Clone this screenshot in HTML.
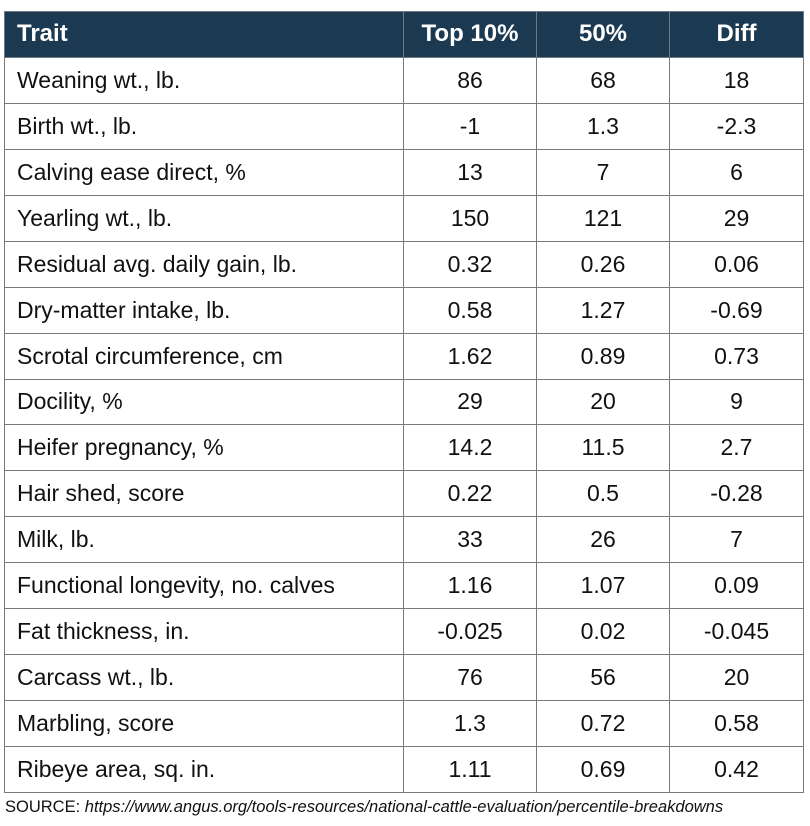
<!DOCTYPE html>
<html><head><meta charset="utf-8"><style>
body{margin:0;background:#fff;width:810px;height:826px;position:relative;font-family:"Liberation Sans",sans-serif;}
table{position:absolute;left:4px;top:11px;border-collapse:collapse;width:799px;table-layout:fixed;}
td,th{border:1.5px solid #7a7a7a;height:44.4px;padding:0;font-size:23px;color:#111;text-align:center;font-weight:normal;}
tr{height:45.95px;}
th{background:#1b3a52;color:#fff;font-weight:bold;border-color:#6d7a86;font-size:24px;}
td:first-child,th:first-child{text-align:left;padding-left:12px;}
.src{position:absolute;left:5px;top:798px;font-size:16.5px;color:#111;white-space:nowrap;}
</style></head><body>
<table>
<colgroup><col style="width:399px"><col style="width:133px"><col style="width:133px"><col style="width:134px"></colgroup>
<tr><th>Trait</th><th>Top 10%</th><th>50%</th><th>Diff</th></tr>
<tr><td>Weaning wt., lb.</td><td>86</td><td>68</td><td>18</td></tr>
<tr><td>Birth wt., lb.</td><td>-1</td><td>1.3</td><td>-2.3</td></tr>
<tr><td>Calving ease direct, %</td><td>13</td><td>7</td><td>6</td></tr>
<tr><td>Yearling wt., lb.</td><td>150</td><td>121</td><td>29</td></tr>
<tr><td>Residual avg. daily gain, lb.</td><td>0.32</td><td>0.26</td><td>0.06</td></tr>
<tr><td>Dry-matter intake, lb.</td><td>0.58</td><td>1.27</td><td>-0.69</td></tr>
<tr><td>Scrotal circumference, cm</td><td>1.62</td><td>0.89</td><td>0.73</td></tr>
<tr><td>Docility, %</td><td>29</td><td>20</td><td>9</td></tr>
<tr><td>Heifer pregnancy, %</td><td>14.2</td><td>11.5</td><td>2.7</td></tr>
<tr><td>Hair shed, score</td><td>0.22</td><td>0.5</td><td>-0.28</td></tr>
<tr><td>Milk, lb.</td><td>33</td><td>26</td><td>7</td></tr>
<tr><td>Functional longevity, no. calves</td><td>1.16</td><td>1.07</td><td>0.09</td></tr>
<tr><td>Fat thickness, in.</td><td>-0.025</td><td>0.02</td><td>-0.045</td></tr>
<tr><td>Carcass wt., lb.</td><td>76</td><td>56</td><td>20</td></tr>
<tr><td>Marbling, score</td><td>1.3</td><td>0.72</td><td>0.58</td></tr>
<tr><td>Ribeye area, sq. in.</td><td>1.11</td><td>0.69</td><td>0.42</td></tr>
</table>
<div class="src">SOURCE: <i>https://www.angus.org/tools-resources/national-cattle-evaluation/percentile-breakdowns</i></div>
</body></html>
